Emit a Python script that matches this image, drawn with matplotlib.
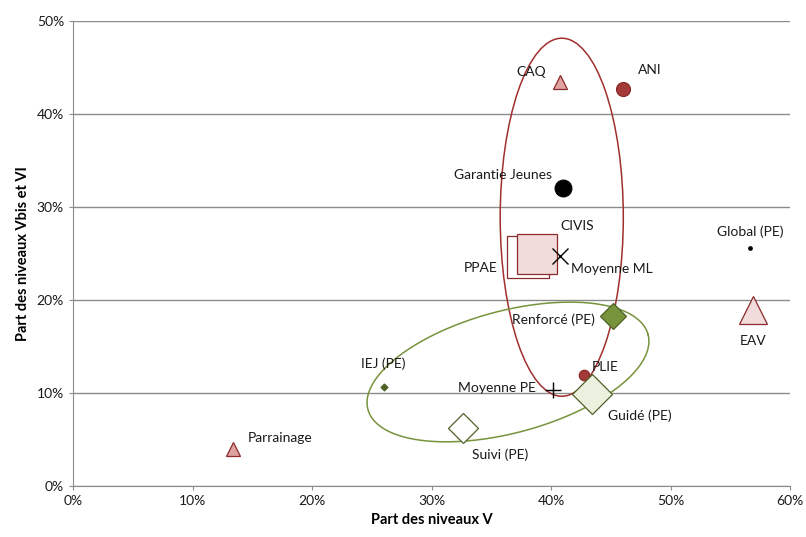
import numpy as np
import matplotlib.pyplot as plt
from matplotlib.patches import Ellipse
from matplotlib.ticker import PercentFormatter

plt.rcParams['font.family'] = ['Lato', 'DejaVu Sans']

# share of level V (x) and of levels Vbis/VI (y), by programme
names = ['CAQ', 'ANI', 'Garantie Jeunes', 'PPAE', 'CIVIS', 'Moyenne ML',
         'Global (PE)', 'EAV', 'Renforcé (PE)', 'IEJ (PE)', 'Moyenne PE',
         'PLIE', 'Guidé (PE)', 'Suivi (PE)', 'Parrainage']
niv_v = [0.4075, 0.460, 0.410, 0.381, 0.388, 0.4075,
         0.5665, 0.569, 0.452, 0.260, 0.402,
         0.428, 0.434, 0.326, 0.134]
niv_vbis_vi = [0.434, 0.427, 0.320, 0.246, 0.250, 0.247,
               0.256, 0.189, 0.183, 0.106, 0.103,
               0.119, 0.099, 0.062, 0.040]

dark_red = '#A33A38'
red_edge = '#8B2A2A'
pink = '#DFA3A2'
pale_pink = '#F2DCDB'
green = '#77933C'
dark_green = '#4F6228'
pale_green = '#EBF1DE'

# marker, size, face, edge, label offset (px), ha
styles = {
    'CAQ': ('^', 10, pink, red_edge, (-29, 10), 'center'),
    'ANI': ('o', 10, dark_red, red_edge, (27, 19), 'center'),
    'Garantie Jeunes': ('o', 12, 'black', 'black', (-11, 13), 'right'),
    'PPAE': ('s', 30, 'white', red_edge, (-48, -11), 'center'),
    'CIVIS': ('s', 28.5, pale_pink, red_edge, (41, 27), 'center'),
    'Moyenne ML': ('x', 12, 'black', 'black', (11, -13), 'left'),
    'Global (PE)': ('o', 2.5, 'black', 'black', (0, 16), 'center'),
    'EAV': ('^', 20, pale_pink, red_edge, (0, -31), 'center'),
    'Renforcé (PE)': ('D', 13, green, dark_green, (-60, -4), 'center'),
    'IEJ (PE)': ('D', 3.5, dark_green, dark_green, (0, 24), 'center'),
    'Moyenne PE': ('+', 11, 'black', 'black', (-18, 2), 'right'),
    'PLIE': ('o', 7.5, dark_red, red_edge, (21, 8), 'center'),
    'Guidé (PE)': ('D', 20, pale_green, dark_green, (16, -22), 'left'),
    'Suivi (PE)': ('D', 15, 'white', dark_green, (38, -26), 'center'),
    'Parrainage': ('^', 9.5, pink, red_edge, (15, 11), 'left'),
}

fig = plt.figure(figsize=(8.06, 5.37), dpi=100)
ax = fig.add_axes([73 / 806, 1 - 486 / 537, 717 / 806, 465 / 537])

for name, x, y in zip(names, niv_v, niv_vbis_vi):
    m, s, fc, ec, off, ha = styles[name]
    lw = 1.0 if m in 'x+' else 0.9
    ax.plot(x, y, marker=m, markersize=s, markerfacecolor=fc,
            markeredgecolor=ec, color=ec, markeredgewidth=lw,
            linestyle='none', zorder=3)
    ax.annotate(name, (x, y), xytext=off, textcoords='offset pixels',
                ha=ha, va='center', fontsize=10, color='#1a1a1a', zorder=4)

# mission locale group (vertical ellipse)
ax.add_patch(Ellipse((0.409, 0.289), 0.103, 0.385, fill=False,
                     edgecolor='#A0302E', linewidth=1.1, zorder=2))

# pôle emploi group: tilted ellipse, built in pixel space then scaled
t = np.linspace(0, 2 * np.pi, 300)
a, b, th = 145, 61, np.radians(15)
ex = a * np.cos(t) * np.cos(th) - b * np.sin(t) * np.sin(th)
ey = a * np.cos(t) * np.sin(th) + b * np.sin(t) * np.cos(th)
ax.plot(0.364 + ex / 1195, 0.1226 + ey / 930, color=green, lw=1.1, zorder=2)

ax.set_xlim(0, 0.6)
ax.set_ylim(0, 0.5)
ax.set_xticks(np.arange(0, 0.61, 0.1))
ax.set_yticks(np.arange(0, 0.51, 0.1))
ax.xaxis.set_major_formatter(PercentFormatter(1.0, decimals=0))
ax.yaxis.set_major_formatter(PercentFormatter(1.0, decimals=0))
ax.yaxis.grid(True, color='#8c8c8c', linewidth=1)
ax.set_axisbelow(True)
for sp in ['top', 'right']:
    ax.spines[sp].set_visible(False)
for sp in ['left', 'bottom']:
    ax.spines[sp].set_color('#8c8c8c')
ax.tick_params(colors='#8c8c8c', labelcolor='#1a1a1a', labelsize=10, length=3)

ax.set_xlabel('Part des niveaux V', fontsize=10.5, fontweight='bold', labelpad=4)
ax.set_ylabel('Part des niveaux Vbis et VI', fontsize=10.5, fontweight='bold',
              labelpad=5)

fig.savefig('out.png', dpi=100)
